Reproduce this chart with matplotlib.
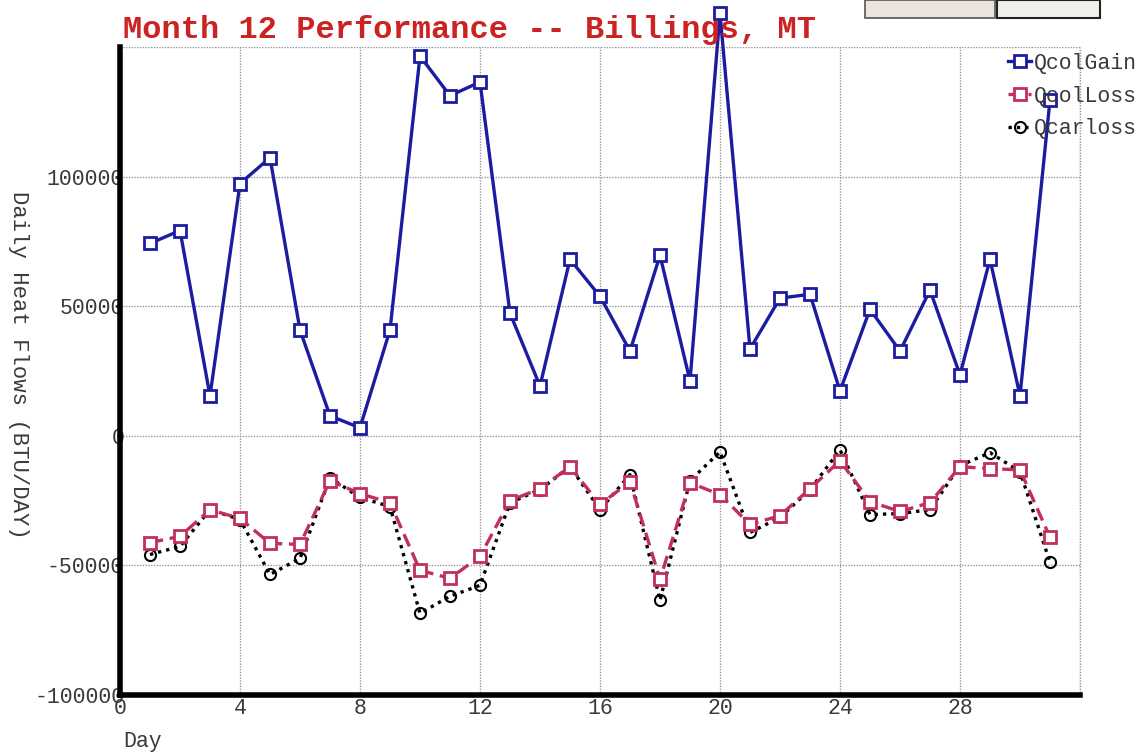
import matplotlib
matplotlib.use("Agg")
import matplotlib.pyplot as plt
from matplotlib.patches import Rectangle

# daily values
days = list(range(1, 32))
qcol_gain = [74200, 79200, 15400, 97300, 107300, 40800, 7700, 3100, 40800, 146500,
             131200, 136500, 47300, 19200, 68100, 53800, 32700, 69600, 21200, 163000,
             33500, 53100, 54600, 17300, 48800, 32700, 56200, 23500, 68100, 15400, 129600]
qcol_loss = [-41200, -38800, -28500, -31900, -41500, -41900, -17300, -22300, -25800, -51900,
             -55000, -46500, -25000, -20400, -11900, -26500, -17700, -55400, -18100, -22700,
             -34200, -30800, -20400, -9600, -25400, -29200, -25800, -11900, -12700, -13100, -39200]
qcar_loss = [-45800, -42700, -28500, -32300, -53500, -47300, -16200, -23800, -27300, -68500,
             -61900, -57700, -25800, -20800, -11900, -28500, -15000, -63500, -17300, -6200,
             -37300, -31500, -20800, -5400, -30400, -30000, -28500, -11500, -6500, -13800, -48800]
x_ticks = [0, 4, 8, 12, 16, 20, 24, 28]
y_ticks = [-100000, -50000, 0, 50000, 100000]

mono = "Liberation Mono"
blue = "#1c1ca0"
red = "#c0305a"
grey_txt = "#3a3a3a"
fs = 15.5

fig = plt.figure(figsize=(11.43, 7.52), dpi=100)
ax = fig.add_axes([120/1143, 57/752, 960/1143, 648/752])

ax.plot(days, qcol_gain, color=blue, lw=2.4, marker="s", ms=8, mfc="white",
        mec=blue, mew=2, label="QcolGain", clip_on=False, zorder=4)
ax.plot(days, qcol_loss, color=red, lw=2.4, ls=(0, (4, 2)), marker="s", ms=8,
        mfc="white", mec=red, mew=2, label="QcolLoss", clip_on=False, zorder=3)
ax.plot(days, qcar_loss, color="black", lw=2.4, ls=(0, (1, 1.5)), marker="o", ms=8,
        mfc="none", mec="black", mew=1.5, label="Qcarloss", clip_on=False, zorder=2)

ax.set_xlim(0, 32)
ax.set_ylim(-100000, 150000)
ax.set_xticks(list(range(0, 33, 4)))
ax.set_xticklabels([str(t) for t in x_ticks] + [""])
ax.set_yticks(y_ticks + [150000])
ax.set_yticklabels([str(t) for t in y_ticks] + [""])
ax.grid(True, color="#999999", ls=(0, (1, 1)), lw=1)
ax.axvline(32, color="#999999", ls=(0, (1, 1)), lw=1, clip_on=False)
ax.tick_params(length=0, labelsize=fs, labelcolor=grey_txt)
for lab in ax.get_xticklabels() + ax.get_yticklabels():
    lab.set_family(mono)
ax.tick_params(axis="y", pad=-3)
ax.tick_params(axis="x", pad=2)

for side in ["top", "right"]:
    ax.spines[side].set_visible(False)
ax.spines["left"].set_linewidth(4)
ax.spines["bottom"].set_linewidth(4)

fig.text(123/1143, 1 - 742/752, "Day", family=mono, fontsize=fs, color=grey_txt,
         ha="left", va="center")
ax.set_ylabel("Daily Heat Flows (BTU/DAY)", family=mono, fontsize=16,
              color=grey_txt, rotation=270, va="center")
ax.yaxis.set_label_coords(-0.106, 0.51)

fig.text(123/1143, 1 - 30/752, "Month 12 Performance -- Billings, MT", family=mono,
         fontsize=23, fontweight="bold", color="#cc2222", va="center", ha="left")

leg = ax.legend(loc="upper left", bbox_to_anchor=(997/1143, 1 - 42/752),
                bbox_transform=fig.transFigure, frameon=False, prop={"family": mono, "size": fs},
                handlelength=1.1, handletextpad=0.1, labelspacing=0.55, borderpad=0)
for t in leg.get_texts():
    t.set_color(grey_txt)

# toolbar buttons at the top edge
fig.patches.append(Rectangle((865/1143, 1 - 18/752), 130/1143, 18/752,
                             transform=fig.transFigure, fc="#ece4dc", ec="#555555", lw=1.2))
fig.patches.append(Rectangle((997/1143, 1 - 18/752), 103/1143, 18/752,
                             transform=fig.transFigure, fc="#f0f0ea", ec="#222222", lw=1.5))

fig.savefig("out.png", dpi=100)
